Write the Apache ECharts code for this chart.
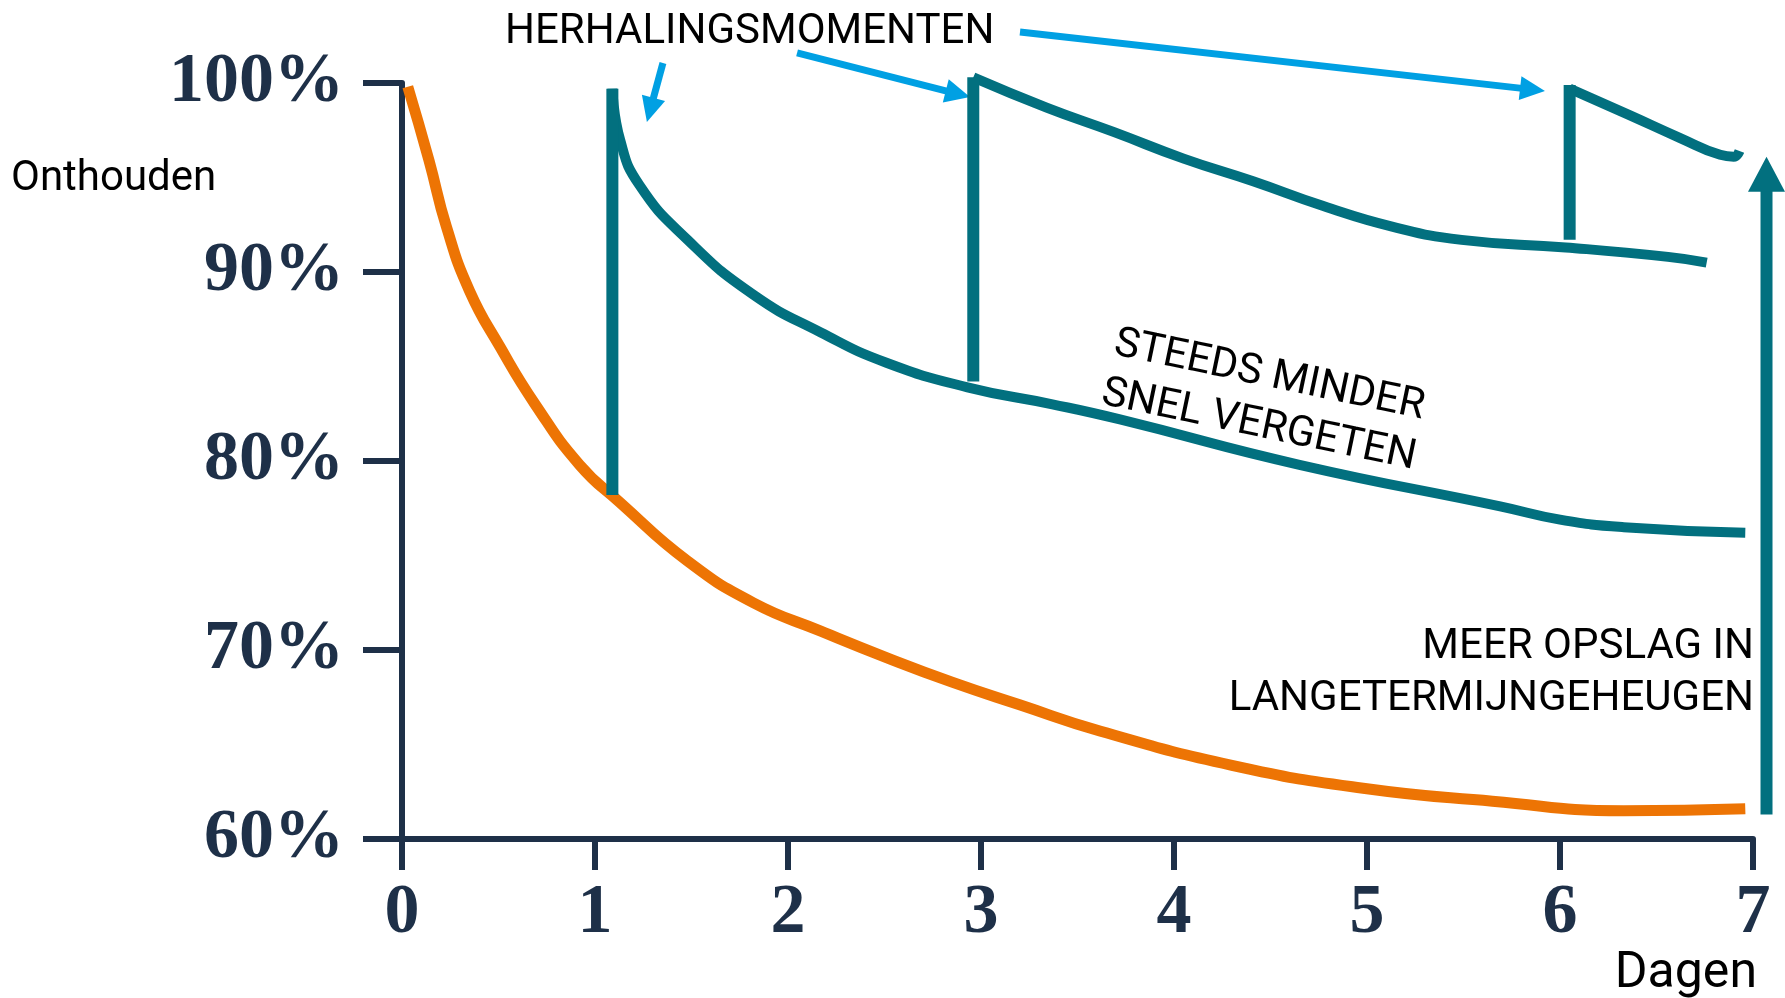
<!DOCTYPE html>
<html><head><meta charset="utf-8">
<script src="https://cdn.jsdelivr.net/npm/echarts@6/dist/echarts.min.js"></script>
<style>html,body{margin:0;padding:0;background:#fff}#c{width:1785px;height:998px}</style>
</head><body><div id="c"></div>
<script>
// ---- data (x = dagen, y = % onthouden) ----
const xTickMin = 0, xTickMax = 7, xTickStep = 1;
const yTickMin = 60, yTickMax = 100, yTickStep = 10;

// forgetting curve without repetition (orange)
const forgetDays = [0.03, 0.14, 0.23, 0.35, 0.51, 0.69, 0.92, 1.13, 1.48, 1.82, 2.17, 2.51, 2.85, 3.20, 3.62, 4.30, 4.97, 5.65, 6.33, 6.96];
const forgetPct  = [99.8, 95.9, 92.4, 89.0, 86.0, 83.0, 79.8, 77.8, 74.7, 72.5, 71.0, 69.6, 68.3, 67.1, 65.7, 63.9, 62.7, 62.0, 61.5, 61.6];

// repetition 1 (day ~1.1)
const rep1Days = [1.09, 1.13, 1.23, 1.48, 1.82, 2.17, 2.51, 2.93, 3.37, 3.72, 4.65, 5.69, 6.00, 6.33, 6.96];
const rep1Pct  = [99.7, 97.0, 94.6, 91.7, 88.8, 86.8, 85.2, 83.9, 83.0, 82.2, 79.8, 77.6, 76.9, 76.5, 76.2];
// repetition 2 (day ~3)
const rep2Days = [2.96, 3.34, 3.69, 4.05, 4.41, 4.77, 5.13, 5.49, 6.03, 6.56, 6.76];
const rep2Pct  = [100.3, 98.7, 97.4, 96.0, 94.8, 93.5, 92.4, 91.7, 91.3, 90.8, 90.5];
// repetition 3 (day ~6)
const rep3Days = [6.05, 6.36, 6.62, 6.83, 6.90, 6.93];
const rep3Pct  = [99.7, 98.3, 97.1, 96.2, 96.1, 96.4];

// vertical jumps at each repetition moment: day, from %, to %
const jumpDay  = [1.09, 2.96, 6.05];
const jumpFrom = [78.2, 84.2, 91.7];
const jumpTo   = [99.7, 100.3, 99.9];

// annotation arrows (start day, start %, end day, end %)
const blueArrowFromDay = [1.352, 2.047, 3.202];
const blueArrowFromPct = [101.06, 101.59, 102.7];
const blueArrowToDay   = [1.269, 2.943, 5.922];
const blueArrowToPct   = [97.94, 99.26, 99.58];
const bigArrowFromDay = [7.07], bigArrowFromPct = [61.3], bigArrowToDay = [7.07], bigArrowToPct = [96.1];

// ---- styling ----
const NAVY = '#1e3048', ORANGE = '#ed7404', TEAL = '#02707f', BLUE = '#00a0e3';
const zip = (a, b) => a.map((v, i) => [v, b[i]]);

const chart = echarts.init(document.getElementById('c'), null, {renderer: 'canvas'});

function arrowRenderer(color, width, headLen, headW) {
  return function (params, api) {
    const p0 = api.coord([api.value(0), api.value(1)]);
    const p1 = api.coord([api.value(2), api.value(3)]);
    const dx = p1[0] - p0[0], dy = p1[1] - p0[1];
    const len = Math.hypot(dx, dy);
    const ux = dx / len, uy = dy / len, nx = -uy, ny = ux;
    const bx = p1[0] - ux * headLen, by = p1[1] - uy * headLen;
    return {type: 'group', children: [
      {type: 'line', shape: {x1: p0[0], y1: p0[1], x2: bx + ux * 2, y2: by + uy * 2},
       style: {stroke: color, lineWidth: width}},
      {type: 'polygon', shape: {points: [[p1[0], p1[1]], [bx + nx * headW / 2, by + ny * headW / 2], [bx - nx * headW / 2, by - ny * headW / 2]]},
       style: {fill: color}}
    ]};
  };
}

const lineBase = {type: 'line', showSymbol: false, symbol: 'none', clip: false, silent: true};
const series = [
  Object.assign({}, lineBase, {name: 'zonder herhaling', data: zip(forgetDays, forgetPct), smooth: 0.5,
    lineStyle: {color: ORANGE, width: 11}}),
  Object.assign({}, lineBase, {data: zip(rep1Days, rep1Pct), smooth: 0.5, lineStyle: {color: TEAL, width: 10}}),
  Object.assign({}, lineBase, {data: zip(rep2Days, rep2Pct), smooth: 0.5, lineStyle: {color: TEAL, width: 10}}),
  Object.assign({}, lineBase, {data: zip(rep3Days, rep3Pct), smooth: 0.5, lineStyle: {color: TEAL, width: 10}}),
];
jumpDay.forEach((d, i) => {
  series.push(Object.assign({}, lineBase, {data: [[d, jumpFrom[i]], [d, jumpTo[i]]], lineStyle: {color: TEAL, width: 12, cap: 'butt'}}));
});
series.push({type: 'custom', coordinateSystem: 'cartesian2d', clip: false, silent: true,
  encode: {x: [0, 2], y: [1, 3]},
  data: blueArrowFromDay.map((d, i) => [d, blueArrowFromPct[i], blueArrowToDay[i], blueArrowToPct[i]]),
  renderItem: arrowRenderer(BLUE, 7, 25, 24)});
series.push({type: 'custom', coordinateSystem: 'cartesian2d', clip: false, silent: true,
  encode: {x: [0, 2], y: [1, 3]},
  data: bigArrowFromDay.map((d, i) => [d, bigArrowFromPct[i], bigArrowToDay[i], bigArrowToPct[i]]),
  renderItem: arrowRenderer(TEAL, 12, 35, 37)});

const labelFont = {fontFamily: 'Liberation Serif', fontWeight: 'bold', fontSize: 70, color: NAVY};
const txt = {fontFamily: 'Roboto', fontSize: 42, fill: '#000'};

chart.setOption({
  animation: false,
  backgroundColor: '#fff',
  grid: {left: 402, right: 32, top: 83, bottom: 159, containLabel: false, outerBoundsMode: 'none'},
  xAxis: {type: 'value', min: xTickMin, max: xTickMax, interval: xTickStep,
    axisLine: {show: true, lineStyle: {color: NAVY, width: 6}},
    axisTick: {show: true, length: 31, lineStyle: {color: NAVY, width: 6}},
    axisLabel: Object.assign({margin: 40}, labelFont),
    splitLine: {show: false}},
  yAxis: {type: 'value', min: yTickMin, max: yTickMax, interval: yTickStep,
    axisLine: {show: true, lineStyle: {color: NAVY, width: 6}},
    axisTick: {show: true, length: 39, lineStyle: {color: NAVY, width: 6}},
    axisLabel: Object.assign({margin: 58, formatter: '{value}%'}, labelFont),
    splitLine: {show: false}},
  series: series,
  graphic: [
    {type: 'text', x: 11, y: 179, style: Object.assign({text: 'Onthouden', textAlign: 'left', textVerticalAlign: 'middle'}, txt)},
    {type: 'text', x: 505, y: 32, style: Object.assign({text: 'HERHALINGSMOMENTEN', textAlign: 'left', textVerticalAlign: 'middle'}, txt)},
    {type: 'text', x: 1264, y: 401, rotation: -0.206, style: Object.assign({text: 'STEEDS MINDER\nSNEL VERGETEN', textAlign: 'center', textVerticalAlign: 'middle', lineHeight: 51}, txt)},
    {type: 'text', x: 1754, y: 647, style: Object.assign({text: 'MEER OPSLAG IN', textAlign: 'right', textVerticalAlign: 'middle'}, txt)},
    {type: 'text', x: 1754, y: 699, style: Object.assign({text: 'LANGETERMIJNGEHEUGEN', textAlign: 'right', textVerticalAlign: 'middle'}, txt)},
    {type: 'text', x: 1757, y: 974, style: Object.assign({text: 'Dagen', textAlign: 'right', textVerticalAlign: 'middle'}, txt, {fontSize: 50})}
  ]
});
</script></body></html>
